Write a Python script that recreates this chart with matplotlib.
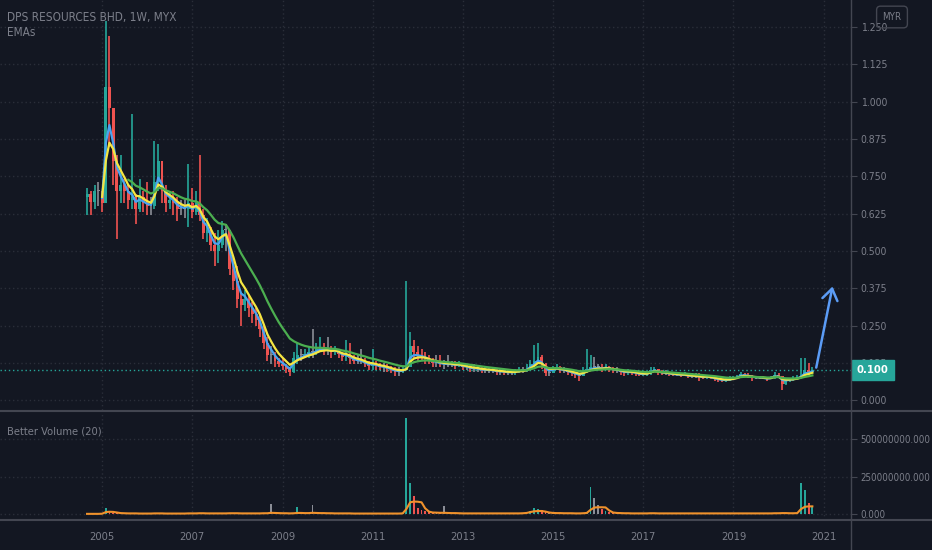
import numpy as np
import pandas as pd
import matplotlib
matplotlib.use("Agg")
import matplotlib.pyplot as plt
import matplotlib.dates as mdates
from matplotlib.lines import Line2D
from matplotlib import font_manager

# the screenshot text is narrow; use a condensed face when the system has one
have_condensed = any(f.name == 'DejaVu Sans' and f.stretch == 'condensed'
                     for f in font_manager.fontManager.ttflist)
if have_condensed:
    plt.rcParams['font.family'] = ['DejaVu Sans']
    plt.rcParams['font.stretch'] = 'condensed'
    SCALE = 1.0
else:
    plt.rcParams['font.family'] = ['Roboto', 'DejaVu Sans']
    SCALE = 0.9

# monthly bars, Sep 2004 .. Oct 2020
dates = pd.date_range('2004-09-01', periods=194, freq='MS')

first_open = 0.68
close = [
    0.69, 0.665, 0.70, 0.70, 0.66, 1.05, 0.98, 0.80, 0.70, 0.72, 0.70, 0.67,
    0.68, 0.64, 0.68, 0.66, 0.65, 0.65, 0.73, 0.80, 0.70, 0.66, 0.67, 0.66,
    0.64, 0.64, 0.64, 0.66, 0.63, 0.66, 0.62, 0.56, 0.57, 0.52, 0.50, 0.52,
    0.57, 0.57, 0.44, 0.40, 0.34, 0.32, 0.34, 0.31, 0.29, 0.27, 0.24, 0.19,
    0.15, 0.15, 0.13, 0.12, 0.115, 0.105, 0.095, 0.14, 0.15, 0.15, 0.155, 0.16,
    0.16, 0.17, 0.175, 0.17, 0.17, 0.16, 0.17, 0.155, 0.145, 0.15, 0.14, 0.13,
    0.13, 0.13, 0.12, 0.115, 0.12, 0.115, 0.11, 0.11, 0.105, 0.10, 0.095, 0.095,
    0.10, 0.11, 0.18, 0.16, 0.15, 0.145, 0.14, 0.13, 0.125, 0.125, 0.12, 0.12,
    0.12, 0.12, 0.115, 0.12, 0.11, 0.11, 0.105, 0.105, 0.105, 0.10, 0.10, 0.10,
    0.10, 0.095, 0.095, 0.093, 0.093, 0.093, 0.095, 0.10, 0.10, 0.105, 0.12, 0.13,
    0.145, 0.12, 0.09, 0.09, 0.105, 0.11, 0.10, 0.10, 0.093, 0.09, 0.085, 0.08,
    0.095, 0.105, 0.11, 0.11, 0.11, 0.105, 0.11, 0.105, 0.10, 0.10, 0.095, 0.09,
    0.095, 0.093, 0.09, 0.085, 0.087, 0.088, 0.10, 0.105, 0.093, 0.09, 0.09, 0.087,
    0.085, 0.085, 0.083, 0.085, 0.08, 0.08, 0.08, 0.078, 0.075, 0.08, 0.075, 0.07,
    0.068, 0.065, 0.067, 0.07, 0.075, 0.08, 0.088, 0.085, 0.08, 0.075, 0.075, 0.075,
    0.073, 0.07, 0.075, 0.085, 0.08, 0.055, 0.065, 0.07, 0.072, 0.075, 0.085, 0.10,
    0.095, 0.10,
]
high = [
    0.71, 0.70, 0.72, 0.73, 0.70, 1.27, 1.22, 0.98, 0.82, 0.82, 0.74, 0.72,
    0.96, 0.69, 0.74, 0.70, 0.73, 0.68, 0.87, 0.86, 0.80, 0.72, 0.70, 0.70,
    0.68, 0.67, 0.67, 0.79, 0.71, 0.70, 0.82, 0.64, 0.61, 0.58, 0.56, 0.57,
    0.60, 0.59, 0.55, 0.48, 0.45, 0.36, 0.37, 0.35, 0.33, 0.31, 0.29, 0.25,
    0.21, 0.18, 0.16, 0.14, 0.14, 0.12, 0.11, 0.16, 0.19, 0.17, 0.17, 0.18,
    0.24, 0.19, 0.21, 0.19, 0.21, 0.18, 0.18, 0.17, 0.16, 0.20, 0.19, 0.15,
    0.15, 0.17, 0.14, 0.13, 0.17, 0.13, 0.125, 0.125, 0.12, 0.115, 0.11, 0.11,
    0.115, 0.40, 0.23, 0.20, 0.18, 0.17, 0.16, 0.15, 0.14, 0.15, 0.15, 0.135,
    0.15, 0.13, 0.13, 0.13, 0.125, 0.12, 0.12, 0.12, 0.115, 0.115, 0.11, 0.11,
    0.11, 0.105, 0.105, 0.10, 0.10, 0.10, 0.105, 0.11, 0.11, 0.12, 0.135, 0.185,
    0.19, 0.15, 0.125, 0.10, 0.115, 0.12, 0.115, 0.11, 0.10, 0.10, 0.095, 0.09,
    0.11, 0.17, 0.15, 0.145, 0.12, 0.12, 0.12, 0.115, 0.11, 0.11, 0.105, 0.10,
    0.105, 0.10, 0.095, 0.095, 0.095, 0.095, 0.11, 0.11, 0.105, 0.10, 0.10, 0.095,
    0.095, 0.095, 0.09, 0.095, 0.09, 0.09, 0.09, 0.09, 0.085, 0.085, 0.085, 0.08,
    0.075, 0.07, 0.075, 0.08, 0.08, 0.085, 0.095, 0.09, 0.09, 0.085, 0.08, 0.08,
    0.08, 0.075, 0.08, 0.095, 0.09, 0.08, 0.07, 0.075, 0.08, 0.085, 0.14, 0.14,
    0.125, 0.11,
]
low = [
    0.62, 0.62, 0.64, 0.65, 0.63, 0.66, 0.85, 0.72, 0.54, 0.66, 0.66, 0.64,
    0.64, 0.59, 0.63, 0.63, 0.62, 0.62, 0.64, 0.70, 0.66, 0.63, 0.64, 0.62,
    0.60, 0.62, 0.61, 0.58, 0.61, 0.62, 0.60, 0.54, 0.53, 0.50, 0.45, 0.46,
    0.51, 0.50, 0.42, 0.37, 0.31, 0.25, 0.30, 0.28, 0.26, 0.25, 0.21, 0.17,
    0.13, 0.12, 0.11, 0.11, 0.10, 0.09, 0.08, 0.09, 0.12, 0.13, 0.14, 0.14,
    0.14, 0.15, 0.16, 0.15, 0.15, 0.14, 0.15, 0.14, 0.13, 0.13, 0.12, 0.12,
    0.12, 0.12, 0.11, 0.10, 0.10, 0.10, 0.10, 0.095, 0.095, 0.09, 0.08, 0.08,
    0.09, 0.10, 0.14, 0.14, 0.13, 0.13, 0.12, 0.12, 0.11, 0.11, 0.11, 0.105,
    0.11, 0.11, 0.105, 0.11, 0.10, 0.10, 0.095, 0.095, 0.095, 0.09, 0.09, 0.09,
    0.09, 0.085, 0.085, 0.085, 0.085, 0.085, 0.085, 0.09, 0.09, 0.095, 0.10, 0.115,
    0.12, 0.105, 0.08, 0.08, 0.09, 0.10, 0.09, 0.09, 0.085, 0.08, 0.075, 0.065,
    0.08, 0.09, 0.10, 0.10, 0.10, 0.095, 0.10, 0.095, 0.09, 0.09, 0.085, 0.08,
    0.085, 0.085, 0.08, 0.08, 0.08, 0.08, 0.085, 0.095, 0.085, 0.085, 0.085, 0.08,
    0.08, 0.08, 0.078, 0.08, 0.075, 0.075, 0.075, 0.065, 0.07, 0.07, 0.07, 0.065,
    0.06, 0.06, 0.06, 0.065, 0.07, 0.07, 0.075, 0.08, 0.075, 0.065, 0.07, 0.07,
    0.07, 0.065, 0.07, 0.07, 0.075, 0.035, 0.05, 0.06, 0.065, 0.07, 0.075, 0.085,
    0.085, 0.09,
]
# volume in millions of shares
volume = [
    3, 5, 4, 6, 8, 40, 22, 12, 9, 6, 5, 7,
    9, 5, 4, 6, 5, 4, 10, 12, 6, 4, 5, 4,
    5, 6, 4, 9, 7, 5, 12, 8, 6, 5, 9, 7,
    6, 8, 10, 7, 9, 6, 5, 8, 6, 5, 7, 9,
    6, 69, 8, 5, 6, 7, 5, 12, 51, 9, 7, 6,
    62, 8, 7, 10, 6, 5, 7, 6, 5, 9, 6, 5,
    4, 6, 5, 4, 7, 5, 4, 6, 5, 4, 8, 6,
    12, 640, 209, 120, 45, 30, 22, 15, 12, 10, 9, 55,
    8, 7, 9, 6, 5, 6, 5, 4, 6, 5, 4, 5,
    6, 4, 5, 4, 6, 5, 4, 7, 9, 12, 25, 40,
    35, 30, 22, 14, 10, 9, 8, 6, 5, 7, 6, 5,
    8, 12, 184, 109, 60, 35, 22, 15, 12, 10, 8, 7,
    6, 5, 6, 4, 5, 7, 12, 9, 6, 5, 4, 5,
    4, 6, 5, 4, 5, 4, 6, 5, 4, 5, 4, 6,
    5, 4, 5, 6, 4, 5, 8, 6, 5, 4, 5, 4,
    5, 4, 6, 9, 7, 12, 8, 6, 7, 10, 207, 163,
    73, 50,
]
# "Better Volume (20)" moving-average line, millions
volume_ma = [
    3, 3, 3, 3, 4, 15, 17, 16, 12, 8, 7, 6,
    6, 6, 5, 5, 5, 5, 6, 6, 6, 5, 5, 5,
    5, 5, 5, 6, 6, 6, 7, 7, 6, 6, 6, 6,
    6, 6, 7, 7, 7, 6, 6, 6, 6, 6, 6, 7,
    7, 10, 9, 8, 7, 7, 6, 7, 9, 9, 8, 8,
    10, 9, 8, 8, 7, 7, 6, 6, 6, 6, 6, 5,
    5, 5, 5, 5, 5, 5, 5, 5, 5, 5, 5, 5,
    6, 35, 80, 85, 84, 80, 40, 18, 12, 11, 10, 10,
    9, 8, 8, 7, 6, 6, 6, 6, 6, 6, 6, 6,
    6, 6, 6, 6, 6, 6, 6, 6, 7, 9, 15, 20,
    22, 22, 18, 12, 9, 8, 8, 7, 7, 7, 6, 6,
    7, 9, 30, 45, 47, 47, 46, 25, 12, 9, 8, 7,
    7, 6, 6, 6, 6, 6, 7, 7, 6, 6, 6, 6,
    6, 6, 6, 6, 6, 6, 6, 6, 6, 6, 6, 6,
    6, 6, 6, 6, 6, 6, 6, 6, 6, 6, 6, 6,
    6, 6, 6, 7, 7, 8, 8, 7, 7, 8, 35, 50,
    53, 53,
]

# (span in months, first plotted bar, colour)
ema_specs = [(3, 5, '#4aa3f0'), (5, 5, '#f5e642'), (14, 12, '#4caf50')]
last_price = 0.100

BG = '#131722'
GRID = '#2a2e39'
TXT = '#7c7f8a'
UP = '#26a69a'
DOWN = '#ef5350'
FLAT = '#8a8d96'
SEP = '#434651'

df = pd.DataFrame({'close': close, 'high': high, 'low': low,
                   'volume': np.array(volume) * 1e6,
                   'vol_ma': np.array(volume_ma) * 1e6}, index=dates)
df['open'] = df['close'].shift(1).fillna(first_open)
colors = np.where(df['close'] > df['open'], UP,
                  np.where(df['close'] < df['open'], DOWN, FLAT))

W, H = 932, 550
fig = plt.figure(figsize=(W / 100, H / 100), dpi=100, facecolor=BG)
ax = fig.add_axes([0, 140 / H, 851 / W, 410 / H], facecolor=BG)
axv = fig.add_axes([0, 30 / H, 851 / W, 107 / H], facecolor=BG, sharex=ax)

x = mdates.date2num(df.index)

# candles
ax.vlines(x, df['low'], df['high'], colors=colors, linewidth=1.2, zorder=3)
body = np.maximum((df['close'] - df['open']).abs(), 0.004)
ax.bar(x, body, bottom=np.minimum(df['open'], df['close']), width=24,
       color=colors, linewidth=0, zorder=3)

# EMAs
for span, minp, col in ema_specs:
    ema = df['close'].ewm(span=span, adjust=False, min_periods=minp).mean()
    ax.plot(x, ema, color=col, linewidth=1.6, zorder=4)

ax.axhline(last_price, color=UP, linestyle=(0, (1, 2)), linewidth=1, zorder=2)

# arrow
ax.annotate('', xy=(mdates.datestr2num('2021-03-18'), 0.39),
            xytext=(mdates.datestr2num('2020-10-28'), 0.10),
            arrowprops=dict(arrowstyle='->,head_length=0.8,head_width=0.55',
                            color='#5b9cf6', lw=1.8, mutation_scale=10),
            zorder=6)

# volume pane
axv.bar(x, df['volume'], width=14, color=colors, linewidth=0, zorder=3)
axv.plot(x, df['vol_ma'], color='#f0922c', linewidth=1.5, zorder=4)

# axes styling
for a in (ax, axv):
    for s in a.spines.values():
        s.set_visible(False)
    a.grid(True, color=GRID, linestyle=(0, (1, 2)), linewidth=1)
    a.set_axisbelow(True)
    a.yaxis.tick_right()
    a.tick_params(axis='y', colors=SEP, labelcolor=TXT, labelsize=7.5 * SCALE,
                  length=4, pad=3)

ax.set_xlim(mdates.datestr2num('2002-09-27'), mdates.datestr2num('2021-08-10'))
ax.set_ylim(-0.033, 1.341)
ax.set_yticks(np.arange(0, 1.26, 0.125))
ax.yaxis.set_major_formatter(plt.FormatStrFormatter('%.3f'))
ax.tick_params(axis='x', which='both', length=0, labelbottom=False)

axv.set_ylim(-38e6, 676e6)
axv.set_yticks([0, 250e6, 500e6])
axv.yaxis.set_major_formatter(plt.FormatStrFormatter('%.3f'))
axv.tick_params(axis='y', labelsize=7 * SCALE)
years = [mdates.datestr2num(f'{y}-01-01') for y in range(2005, 2022, 2)]
axv.set_xticks(years)
axv.set_xticklabels([str(y) for y in range(2005, 2022, 2)])
axv.tick_params(axis='x', length=0, pad=9, labelcolor=TXT, labelsize=8 * SCALE)

# pane separators and price-scale border
fig.add_artist(Line2D([0, 1], [1 - 411 / H, 1 - 411 / H], transform=fig.transFigure,
                      color=SEP, linewidth=1.5))
fig.add_artist(Line2D([0, 1], [1 - 520 / H, 1 - 520 / H], transform=fig.transFigure,
                      color=SEP, linewidth=1.5))
fig.add_artist(Line2D([851 / W, 851 / W], [0, 1], transform=fig.transFigure,
                      color=SEP, linewidth=1))

# last price label
ax.text(1.007, last_price, f'{last_price:.3f}', transform=ax.get_yaxis_transform(),
        color='white', fontsize=8 * SCALE, fontweight='bold', va='center', ha='left',
        clip_on=False, zorder=10,
        bbox=dict(boxstyle='square,pad=0.45', facecolor=UP, edgecolor=UP))

# titles
fig.text(7 / W, 1 - 18 / H, 'DPS RESOURCES BHD, 1W, MYX', color=TXT,
         fontsize=8.5 * SCALE, va='center', ha='left')
fig.text(7 / W, 1 - 33 / H, 'EMAs', color=TXT, fontsize=8.5 * SCALE,
         va='center', ha='left')
fig.text(7 / W, 1 - 432 / H, 'Better Volume (20)', color=TXT, fontsize=8 * SCALE,
         va='center', ha='left')
fig.text(892 / W, 1 - 17 / H, 'MYR', color=TXT, fontsize=7 * SCALE, va='center',
         ha='center',
         bbox=dict(boxstyle='round,pad=0.6,rounding_size=0.4', facecolor='none',
                   edgecolor=SEP, linewidth=1))

fig.savefig('out.png', dpi=100, facecolor=BG)
